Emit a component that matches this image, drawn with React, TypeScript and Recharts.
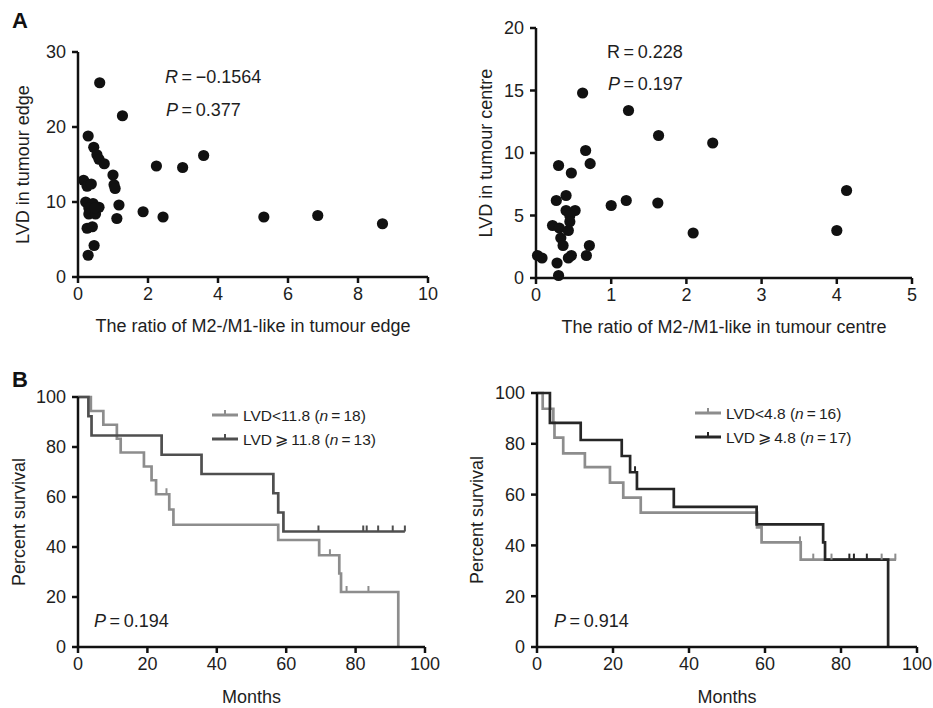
import React from 'react';
import { ScatterChart, Scatter, ComposedChart, Line, XAxis, YAxis, Label, Legend } from 'recharts';

const FONT = '"Liberation Sans", Arial, Helvetica, sans-serif';
const INK = '#111111';
const TEXT = '#1e1e1e';

// ---------- Panel A (left): tumour edge ----------
const edgeRatio = [0.62, 1.27, 0.29, 0.45, 0.54, 0.6, 0.75, 1.0, 1.03, 1.06, 1.17, 1.11, 1.86, 2.24, 2.43, 2.99, 3.59, 5.31, 6.85, 8.7, 0.16, 0.26, 0.38, 0.22, 0.43, 0.31, 0.31, 0.5, 0.6, 0.26, 0.41, 0.46, 0.29, 0.48];
const edgeLVD = [25.9, 21.5, 18.8, 17.3, 16.3, 15.7, 15.1, 13.6, 12.3, 11.8, 9.6, 7.8, 8.7, 14.8, 8.0, 14.6, 16.2, 8.0, 8.2, 7.1, 12.9, 12.1, 12.4, 10.0, 9.8, 9.2, 8.4, 8.4, 9.3, 6.5, 6.7, 4.2, 2.9, 9.2];
const edgeXTicks = [0, 2, 4, 6, 8, 10];
const edgeYTicks = [0, 10, 20, 30];

// ---------- Panel A (right): tumour centre ----------
const centreRatio = [0.62, 1.23, 1.63, 2.35, 0.66, 0.72, 0.3, 0.47, 4.13, 0.4, 0.27, 1.2, 1.0, 1.62, 0.4, 0.52, 0.45, 0.45, 0.22, 0.31, 0.43, 2.09, 4.0, 0.33, 0.36, 0.71, 0.47, 0.43, 0.67, 0.02, 0.08, 0.28, 0.3];
const centreLVD = [14.8, 13.4, 11.4, 10.8, 10.2, 9.15, 9.0, 8.4, 7.0, 6.6, 6.2, 6.2, 5.8, 6.0, 5.4, 5.4, 5.0, 4.5, 4.2, 4.0, 3.8, 3.6, 3.8, 3.2, 2.6, 2.6, 1.8, 1.6, 1.8, 1.8, 1.6, 1.2, 0.2];
const centreXTicks = [0, 1, 2, 3, 4, 5];
const centreYTicks = [0, 5, 10, 15, 20];

// ---------- Panel B: survival ----------
const monthTicks = [0, 20, 40, 60, 80, 100];
const survivalTicks = [0, 20, 40, 60, 80, 100];

// left: LVD in tumour edge
const edgeLowTime = [0, 3.7, 7.3, 11.2, 12.3, 19.0, 21.2, 22.5, 26.3, 27.5, 57.7, 69.5, 75.3, 75.8, 92.3];
const edgeLowSurv = [100, 94.4, 88.9, 83.3, 77.8, 72.2, 66.7, 61.1, 55.0, 48.9, 42.8, 36.7, 29.4, 22.0, 0];
const edgeLowCensorTime = [25.5, 72.6, 77.4, 83.7];
const edgeLowCensorSurv = [61.1, 36.7, 22.0, 22.0];

const edgeHighTime = [0, 3.0, 3.9, 24.1, 35.6, 56.3, 57.7, 59.2, 94.2];
const edgeHighSurv = [100, 92.3, 84.6, 76.9, 69.2, 61.5, 53.8, 46.2, 46.2];
const edgeHighCensorTime = [69.3, 82.2, 83.2, 86.5, 90.7, 94.2];
const edgeHighCensorSurv = [46.2, 46.2, 46.2, 46.2, 46.2, 46.2];

// right: LVD in tumour centre
const centreLowTime = [0, 1.5, 4.3, 4.6, 6.9, 12.6, 19.2, 22.7, 27.3, 57.9, 59.1, 69.4, 94.5];
const centreLowSurv = [100, 93.8, 88.2, 82.4, 76.2, 70.8, 64.7, 58.8, 52.9, 47.1, 41.2, 34.4, 34.4];
const centreLowCensorTime = [69.2, 72.7, 77.5, 90.7, 94.3];
const centreLowCensorSurv = [41.2, 34.4, 34.4, 34.4, 34.4];

const centreHighTime = [0, 3.4, 11.5, 22.3, 24.5, 26.3, 36.0, 57.8, 75.3, 75.8, 92.4];
const centreHighSurv = [100, 88.2, 81.5, 75.2, 68.8, 62.2, 55.2, 48.3, 41.2, 34.4, 0];
const centreHighCensorTime = [25.8, 82.2, 83.4, 86.8];
const centreHighCensorSurv = [68.8, 34.4, 34.4, 34.4];

const edgeLegendLabels = ['LVD<11.8', 'LVD\u2009\u2A7E\u200911.8'];
const edgeLegendN = [18, 13];
const centreLegendLabels = ['LVD<4.8', 'LVD\u2009\u2A7E\u20094.8'];
const centreLegendN = [16, 17];

const LIGHT = '#8d8d8d';
const DARK_EDGE = '#4f4f4f';
const DARK_CENTRE = '#262626';

const pts = (xs: number[], ys: number[]) => xs.map((x, i) => ({ x, y: ys[i] }));
const km = (ts: number[], ss: number[]) => ts.map((t, i) => ({ t, s: ss[i] }));

const tickStyle = { fill: TEXT, fontSize: 18, fontFamily: FONT };
const axisLine = { stroke: INK, strokeWidth: 2.5 };
const tickLine = { stroke: INK, strokeWidth: 2.5 };

const dot = (p: any) => <circle cx={p.cx} cy={p.cy} r={5.6} fill="#111" />;
const censor = (color: string) => (p: any) => (
  <line x1={p.cx} x2={p.cx} y1={p.cy} y2={p.cy - 6} stroke={color} strokeWidth={2} />
);

const titleStyle = { fill: TEXT, fontSize: 18, fontFamily: FONT };

function KmLegend({ labels, ns, colors }: { labels: string[]; ns: number[]; colors: string[] }) {
  return (
    <svg width={230} height={50} style={{ overflow: 'visible', display: 'block' }}>
      {labels.map((lab, i) => (
        <g key={i} transform={`translate(0, ${10 + i * 24})`}>
          <line x1={0} x2={26} y1={0} y2={0} stroke={colors[i]} strokeWidth={3} />
          <line x1={13} x2={13} y1={0} y2={-5} stroke={colors[i]} strokeWidth={2} />
          <text x={31} y={6} fontSize={15.5} fontFamily={FONT} fill={TEXT}>
            <tspan>{lab} (</tspan>
            <tspan fontStyle="italic">n</tspan>
            <tspan>{'\u2009=\u2009' + ns[i] + ')'}</tspan>
          </text>
        </g>
      ))}
    </svg>
  );
}

function ScatterPanel(props: {
  left: number; top: number; width: number; height: number; margin: any;
  xs: number[]; ys: number[]; xTicks: number[]; yTicks: number[];
  xTitle: string; yTitle: string; yTitleOffset: number;
}) {
  const { left, top, width, height, margin, xs, ys, xTicks, yTicks, xTitle, yTitle, yTitleOffset } = props;
  return (
    <div style={{ position: 'absolute', left, top, width, height }}>
      <ScatterChart width={width} height={height} margin={margin}>
        <XAxis type="number" dataKey="x" domain={[xTicks[0], xTicks[xTicks.length - 1]]} ticks={xTicks}
          axisLine={axisLine} tickLine={tickLine} tick={tickStyle} tickSize={6} tickMargin={4} height={30} interval={0}>
          <Label value={xTitle} position="bottom" offset={12} style={titleStyle} />
        </XAxis>
        <YAxis type="number" dataKey="y" domain={[yTicks[0], yTicks[yTicks.length - 1]]} ticks={yTicks}
          axisLine={axisLine} tickLine={tickLine} tick={tickStyle} tickSize={6} tickMargin={6} width={60} interval={0}>
          <Label value={yTitle} angle={-90} position="insideLeft" offset={yTitleOffset}
            style={{ ...titleStyle, textAnchor: 'middle' }} />
        </YAxis>
        <Scatter data={pts(xs, ys)} shape={dot} isAnimationActive={false} />
      </ScatterChart>
    </div>
  );
}

function KmPanel(props: {
  left: number; top: number; width: number; height: number; margin: any;
  lowT: number[]; lowS: number[]; lowCT: number[]; lowCS: number[];
  highT: number[]; highS: number[]; highCT: number[]; highCS: number[];
  darkColor: string; labels: string[]; ns: number[]; legendLeft: number; legendTop: number;
  yTitleOffset: number;
}) {
  const p = props;
  const colors = [LIGHT, p.darkColor];
  return (
    <div style={{ position: 'absolute', left: p.left, top: p.top, width: p.width, height: p.height }}>
      <ComposedChart width={p.width} height={p.height} margin={p.margin}>
        <XAxis type="number" dataKey="t" domain={[0, 100]} ticks={monthTicks}
          axisLine={axisLine} tickLine={tickLine} tick={tickStyle} tickSize={6} tickMargin={4} height={30} interval={0}>
          <Label value="Months" position="bottom" offset={13} style={titleStyle} />
        </XAxis>
        <YAxis type="number" dataKey="s" domain={[0, 100]} ticks={survivalTicks}
          axisLine={axisLine} tickLine={tickLine} tick={tickStyle} tickSize={6} tickMargin={6} width={60} interval={0}>
          <Label value="Percent survival" angle={-90} position="insideLeft" offset={p.yTitleOffset}
            style={{ ...titleStyle, textAnchor: 'middle' }} />
        </YAxis>
        <Line data={km(p.lowT, p.lowS)} dataKey="s" type="stepAfter" stroke={LIGHT} strokeWidth={2.7}
          dot={false} activeDot={false} isAnimationActive={false} />
        <Scatter data={km(p.lowCT, p.lowCS)} dataKey="s" shape={censor(LIGHT)} isAnimationActive={false} />
        <Line data={km(p.highT, p.highS)} dataKey="s" type="stepAfter" stroke={p.darkColor} strokeWidth={2.7}
          dot={false} activeDot={false} isAnimationActive={false} />
        <Scatter data={km(p.highCT, p.highCS)} dataKey="s" shape={censor(p.darkColor)} isAnimationActive={false} />
        <Legend layout="vertical" align="center" verticalAlign="middle"
          wrapperStyle={{ left: p.legendLeft, top: p.legendTop, width: 230, height: 50 }}
          content={() => <KmLegend labels={p.labels} ns={p.ns} colors={colors} />} />
      </ComposedChart>
    </div>
  );
}

const annot = { fontSize: 18, fontFamily: FONT, fill: TEXT } as const;

export default function App() {
  return (
    <div style={{ position: 'absolute', left: 0, top: 0, width: 933, height: 708, background: '#fff', overflow: 'hidden' }}>
      <ScatterPanel left={0} top={0} width={466} height={340}
        margin={{ top: 52, right: 38, bottom: 33, left: 18 }}
        xs={edgeRatio} ys={edgeLVD} xTicks={edgeXTicks} yTicks={edgeYTicks}
        xTitle="The ratio of M2-/M1-like in tumour edge" yTitle="LVD in tumour edge" yTitleOffset={5} />
      <ScatterPanel left={466} top={0} width={467} height={340}
        margin={{ top: 28, right: 21, bottom: 32, left: 10 }}
        xs={centreRatio} ys={centreLVD} xTicks={centreXTicks} yTicks={centreYTicks}
        xTitle="The ratio of M2-/M1-like in tumour centre" yTitle="LVD in tumour centre" yTitleOffset={10} />
      <KmPanel left={0} top={340} width={466} height={368}
        margin={{ top: 57, right: 41, bottom: 31, left: 18 }}
        lowT={edgeLowTime} lowS={edgeLowSurv} lowCT={edgeLowCensorTime} lowCS={edgeLowCensorSurv}
        highT={edgeHighTime} highS={edgeHighSurv} highCT={edgeHighCensorTime} highCS={edgeHighCensorSurv}
        darkColor={DARK_EDGE} labels={edgeLegendLabels} ns={edgeLegendN} legendLeft={212} legendTop={65}
        yTitleOffset={1} />
      <KmPanel left={466} top={340} width={467} height={368}
        margin={{ top: 53, right: 16, bottom: 31, left: 11 }}
        lowT={centreLowTime} lowS={centreLowSurv} lowCT={centreLowCensorTime} lowCS={centreLowCensorSurv}
        highT={centreHighTime} highS={centreHighSurv} highCT={centreHighCensorTime} highCS={centreHighCensorSurv}
        darkColor={DARK_CENTRE} labels={centreLegendLabels} ns={centreLegendN} legendLeft={229} legendTop={63}
        yTitleOffset={0} />
      <svg width={933} height={708} style={{ position: 'absolute', left: 0, top: 0, pointerEvents: 'none' }}>
        <text x={12} y={28} fontSize={22} fontWeight="bold" fontFamily={FONT} fill="#111">A</text>
        <text x={12} y={387} fontSize={22} fontWeight="bold" fontFamily={FONT} fill="#111">B</text>
        <text x={165} y={83} {...annot}>
          <tspan fontStyle="italic">R</tspan><tspan>{'\u2009=\u2009\u22120.1564'}</tspan>
        </text>
        <text x={166} y={116} {...annot}>
          <tspan fontStyle="italic">P</tspan><tspan>{'\u2009=\u20090.377'}</tspan>
        </text>
        <text x={607} y={58} {...annot}>
          <tspan>R</tspan><tspan>{'\u2009=\u20090.228'}</tspan>
        </text>
        <text x={608} y={90} {...annot}>
          <tspan fontStyle="italic">P</tspan><tspan>{'\u2009=\u20090.197'}</tspan>
        </text>
        <text x={94} y={627} {...annot}>
          <tspan fontStyle="italic">P</tspan><tspan>{'\u2009=\u20090.194'}</tspan>
        </text>
        <text x={554} y={627} {...annot}>
          <tspan fontStyle="italic">P</tspan><tspan>{'\u2009=\u20090.914'}</tspan>
        </text>
      </svg>
    </div>
  );
}
